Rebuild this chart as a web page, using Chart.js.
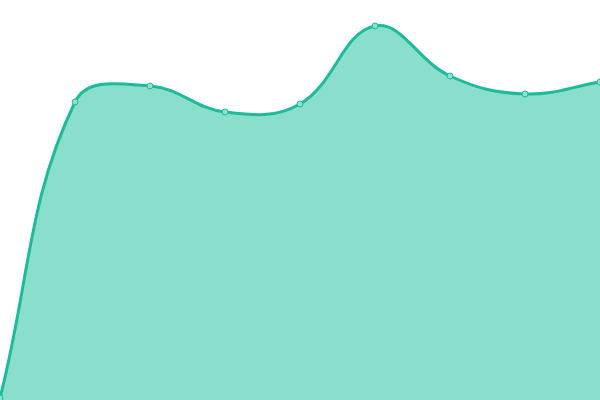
<!DOCTYPE html>
<html>
<head>
<meta charset="utf-8">
<script src="https://cdn.jsdelivr.net/npm/chart.js@4/dist/chart.umd.min.js"></script>
<style>
    html, body { margin: 0; padding: 0; background: #ffffff; }
    #wrap { width: 600px; height: 400px; }
</style>
</head>
<body>
<div id="wrap"><canvas id="area-chart"></canvas></div>
<script>
/* ── DATA ────────────────────────────────────────────── */
var LABELS = ['1', '2', '3', '4', '5', '6', '7', '8', '9'];
var VALUES = [0.5, 74.5, 78.5, 72, 74, 93.5, 81, 76.5, 79.5];

var Y_MIN = 0;
var Y_MAX = 100;

/* ── CHART ───────────────────────────────────────────── */
new Chart(document.getElementById('area-chart'), {
    type: 'line',
    data: {
        labels: LABELS,
        datasets: [{
            data: VALUES,
            borderColor: '#1dbb99',
            backgroundColor: 'rgba(22,190,154,0.5)',
            borderWidth: 3,
            fill: true,
            tension: 0.4,
            pointRadius: 3,
            pointBorderWidth: 1,
            pointBackgroundColor: '#8ce0cf',
            pointBorderColor: '#1dbb99'
        }]
    },
    options: {
        responsive: true, maintainAspectRatio: false,
        animation: false,
        layout: { padding: 0, autoPadding: false },
        plugins: { legend: { display: false }, tooltip: { enabled: false } },
        scales: {
            x: { display: false, offset: false },
            y: { display: false, min: Y_MIN, max: Y_MAX }
        }
    }
});
</script>
</body>
</html>
